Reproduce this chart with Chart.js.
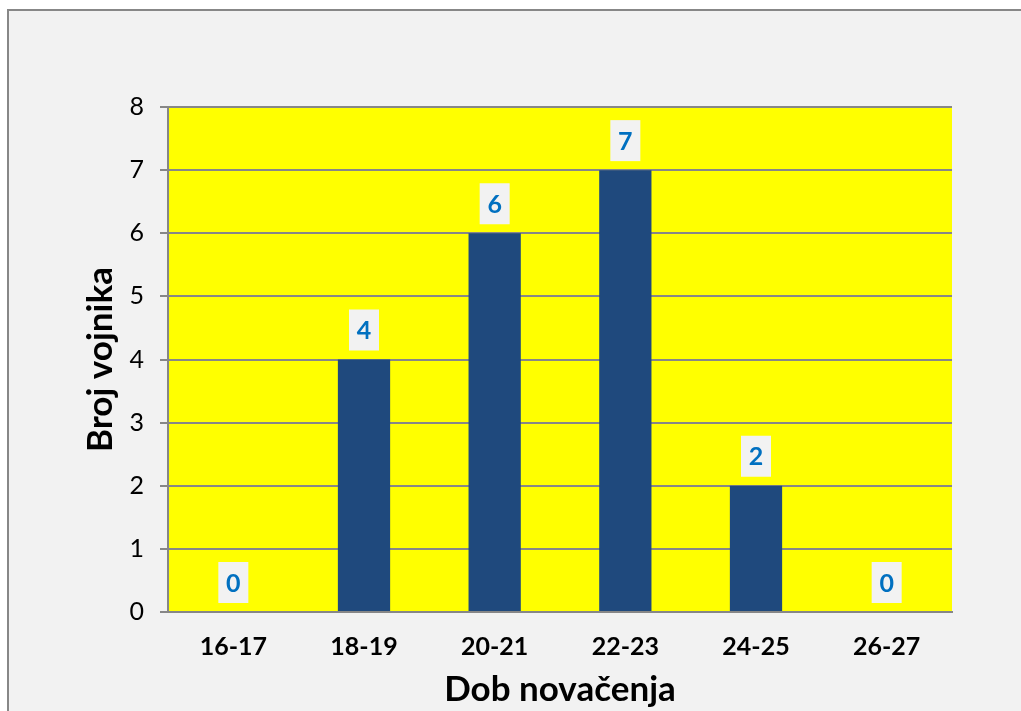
<!DOCTYPE html>
<html>
<head>
<meta charset="utf-8">
<script src="https://cdn.jsdelivr.net/npm/chart.js@4/dist/chart.umd.min.js"></script>
<style>
  html, body { margin: 0; padding: 0; background: #ffffff; overflow: hidden; }
  #frame {
    position: absolute; left: 7px; top: 9px; width: 1100px; height: 800px;
    border-top: 2px solid #878787; border-left: 2px solid #878787;
    background: #f2f2f2;
  }
  #chart { position: absolute; left: 0; top: 0; }
</style>
</head>
<body>
<div id="frame"></div>
<canvas id="chart" width="1021" height="711"></canvas>
<script>
// categories and values
const ageGroups = ['16-17', '18-19', '20-21', '22-23', '24-25', '26-27'];
const soldierCounts = [0, 4, 6, 7, 2, 0];
const yTicks = [0, 1, 2, 3, 4, 5, 6, 7, 8];

const gridGray = '#878787';
const fontName = 'Lato';

// yellow plot area behind the bars
const plotBackground = {
    id: 'plotBackground',
    beforeDraw(chart) {
        const { ctx, chartArea: a } = chart;
        ctx.save();
        ctx.fillStyle = '#ffff00';
        ctx.fillRect(a.left, a.top, a.right - a.left, a.bottom - a.top);
        ctx.restore();
    }
};

// value boxes above each bar
const valueBoxes = {
    id: 'valueBoxes',
    afterDatasetsDraw(chart) {
        const { ctx } = chart;
        const meta = chart.getDatasetMeta(0);
        ctx.save();
        ctx.font = 'bold 25px ' + fontName;
        ctx.textAlign = 'center';
        ctx.textBaseline = 'middle';
        meta.data.forEach((bar, i) => {
            const w = 30, h = 41;
            const bottom = bar.y - 9;
            ctx.fillStyle = '#f2f2f2';
            ctx.fillRect(bar.x - w / 2, bottom - h, w, h);
            ctx.fillStyle = '#0070c0';
            ctx.fillText(String(soldierCounts[i]), bar.x, bottom - h / 2 + 1);
        });
        ctx.restore();
    }
};

new Chart(document.getElementById('chart'), {
    type: 'bar',
    data: {
        labels: ageGroups,
        datasets: [{
            data: soldierCounts,
            backgroundColor: '#1f497d',
            borderWidth: 0,
            categoryPercentage: 1,
            barPercentage: 0.4
        }]
    },
    options: {
        responsive: false,
        animation: false,
        layout: { padding: { top: 107, right: 69, left: 0, bottom: 0 } },
        plugins: {
            legend: { display: false },
            tooltip: { enabled: false }
        },
        scales: {
            x: {
                afterFit(scale) { scale.height = 99; },
                grid: { display: false, drawTicks: false },
                border: { display: true, color: gridGray, width: 2 },
                ticks: {
                    color: '#000',
                    padding: 20,
                    maxRotation: 0,
                    font: { family: fontName, size: 25, weight: 'bold' }
                },
                title: {
                    display: true,
                    text: 'Dob novačenja',
                    color: '#000',
                    padding: { top: 0, bottom: 0 },
                    font: { family: fontName, size: 35, weight: 'bold' }
                }
            },
            y: {
                min: 0,
                max: 8,
                afterFit(scale) { scale.width = 168; },
                afterBuildTicks(scale) { scale.ticks = yTicks.map(v => ({ value: v })); },
                grid: { color: gridGray, lineWidth: 2, tickLength: 8 },
                border: { display: true, color: gridGray, width: 2 },
                ticks: {
                    color: '#000',
                    padding: 16,
                    font: { family: fontName, size: 25 }
                },
                title: {
                    display: true,
                    text: 'Broj vojnika',
                    color: '#000',
                    padding: { top: 80, bottom: 0 },
                    font: { family: fontName, size: 35, weight: 'bold' }
                }
            }
        }
    },
    plugins: [plotBackground, valueBoxes]
});
</script>
</body>
</html>
